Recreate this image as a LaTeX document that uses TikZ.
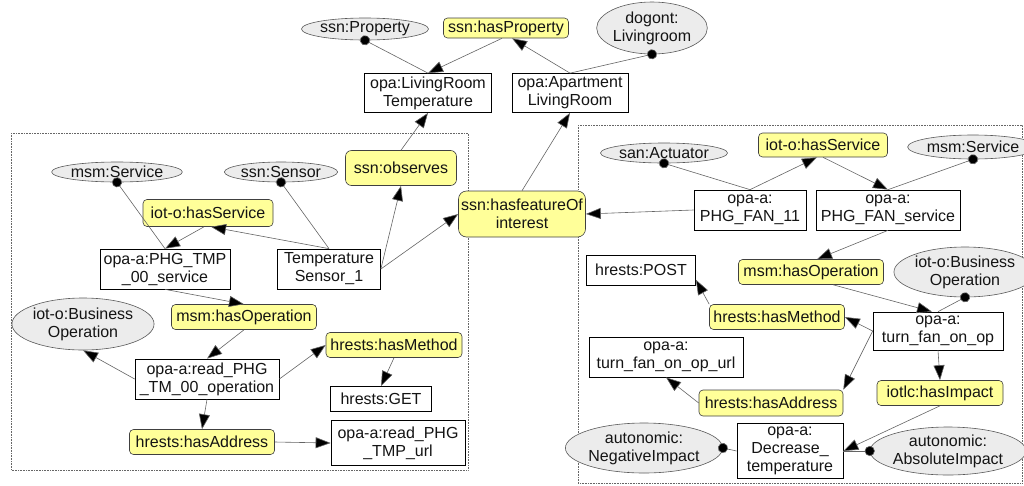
\documentclass[tikz,border=0pt]{standalone}
\usepackage{fontspec}
\setmainfont{Liberation Sans}
\usetikzlibrary{shapes.geometric,arrows.meta}
\definecolor{propyel}{RGB}{255,255,153}
\definecolor{clsgray}{RGB}{236,236,236}
\definecolor{txt}{RGB}{20,20,20}
\definecolor{ln}{RGB}{100,100,100}
\begin{document}
\begin{tikzpicture}[x=1pt,y=-1pt,
  every node/.style={font=\fontsize{16}{18}\selectfont, text=txt, align=center, inner sep=1pt},
  inst/.style={draw=black, line width=0.7pt, fill=white, rectangle},
  prop/.style={draw=black!75, line width=0.6pt, fill=propyel, rectangle, rounded corners=4pt},
  cls/.style={draw=black!65, line width=0.6pt, fill=clsgray, ellipse, inner sep=0pt},
  rel/.style={draw=ln, line width=0.6pt, -{Triangle[length=15pt,width=11pt,fill=black]}},
  typ/.style={draw=ln, line width=0.6pt, -{Circle[length=10pt,fill=black]}, shorten >=-5pt},
  grp/.style={draw=black!60, densely dotted, line width=0.6pt}
]
\useasboundingbox (0,0) rectangle (1024,485);

% groups
\draw[grp] (11,133) rectangle (468,470);
\draw[grp] (578,125) rectangle (1022,483);

% top
\node[cls, minimum width=114pt, minimum height=22pt] (sprop) at (365,29) {ssn:Property};
\node[prop, minimum width=125pt, minimum height=20pt] (hasprop) at (506,28) {ssn:hasProperty};
\node[cls, minimum width=97pt, minimum height=52pt] (dogont) at (652,28) {dogont:\\Livingroom};
\node[inst, minimum width=127pt, minimum height=39pt] (lrt) at (428,93) {opa:LivingRoom\\Temperature};
\node[inst, minimum width=116pt, minimum height=39pt] (apt) at (570,93) {opa:Apartment\\LivingRoom};
\node[prop, minimum width=111pt, minimum height=35pt, rounded corners=6pt] (observes) at (401,168) {ssn:observes};
\node[prop, minimum width=127pt, minimum height=46pt, rounded corners=8pt] (hfoi) at (522,214) {ssn:hasfeatureOf\\interest};

% left group
\node[cls, minimum width=101pt, minimum height=20pt] (msmL) at (117,172) {msm:Service};
\node[cls, minimum width=102pt, minimum height=20pt] (sensor) at (281,172) {ssn:Sensor};
\node[prop, minimum width=130pt, minimum height=27pt] (hsL) at (208,213) {iot-o:hasService};
\node[inst, minimum width=130pt, minimum height=40pt] (tmpsvc) at (165,269) {opa-a:PHG\_TMP\\\_00\_service};
\node[inst, minimum width=103pt, minimum height=40pt] (tsens) at (329,269) {Temperature\\Sensor\_1};
\node[prop, minimum width=145pt, minimum height=25pt] (hopL) at (244,317) {msm:hasOperation};
\node[cls, minimum width=130pt, minimum height=52pt] (boL) at (83,324) {iot-o:Business\\Operation};
\node[inst, minimum width=144pt, minimum height=40pt] (readop) at (207,379) {opa-a:read\_PHG\\\_TM\_00\_operation};
\node[prop, minimum width=136pt, minimum height=25pt] (hmL) at (394,345) {hrests:hasMethod};
\node[inst, minimum width=101pt, minimum height=25pt] (get) at (381,399) {hrests:GET};
\node[prop, minimum width=145pt, minimum height=25pt] (haL) at (202,442) {hrests:hasAddress};
\node[inst, minimum width=134pt, minimum height=45pt] (url) at (398,443) {opa-a:read\_PHG\\\_TMP\_url};

% right group
\node[cls, minimum width=110pt, minimum height=20pt] (act) at (664,153) {san:Actuator};
\node[prop, minimum width=129pt, minimum height=24pt] (hsR) at (823,145) {iot-o:hasService};
\node[cls, minimum width=100pt, minimum height=24pt] (msmR) at (973,147) {msm:Service};
\node[inst, minimum width=112pt, minimum height=40pt] (fan11) at (750,210) {opa-a:\\PHG\_FAN\_11};
\node[inst, minimum width=144pt, minimum height=40pt] (fansvc) at (888,210) {opa-a:\\PHG\_FAN\_service};
\node[inst, minimum width=109pt, minimum height=30pt] (post) at (641,270) {hrests:POST};
\node[prop, minimum width=145pt, minimum height=25pt] (hopR) at (811,272) {msm:hasOperation};
\node[cls, minimum width=115pt, minimum height=50pt] (boR) at (965,272) {iot-o:Business\\Operation};
\node[prop, minimum width=135pt, minimum height=25pt] (hmR) at (777,317) {hrests:hasMethod};
\node[inst, minimum width=130pt, minimum height=38pt] (turn) at (938,331) {opa-a:\\turn\_fan\_on\_op};
\node[inst, minimum width=154pt, minimum height=40pt] (turl) at (666,357) {opa-a:\\turn\_fan\_on\_op\_url};
\node[prop, minimum width=144pt, minimum height=26pt] (haR) at (771,403) {hrests:hasAddress};
\node[prop, minimum width=126pt, minimum height=25pt] (impact) at (940,393) {iotlc:hasImpact};
\node[inst, minimum width=106pt, minimum height=55pt] (dec) at (790,451) {opa-a:\\Decrease\_\\temperature};
\node[cls, minimum width=130pt, minimum height=50pt] (neg) at (644,448) {autonomic:\\NegativeImpact};
\node[cls, minimum width=139pt, minimum height=48pt] (abs) at (948,451) {autonomic:\\AbsoluteImpact};

% top edges
\draw[typ] (lrt.north) -- (sprop.south);
\draw[rel] ([xshift=-4pt]hasprop.south) -- (lrt.north);
\draw[rel] (apt.north) -- ([xshift=6pt]hasprop.south);
\draw[typ] (apt.north) -- (dogont.south);
\draw[rel] (observes.north) -- (lrt.south);
\draw[rel] (hfoi.north) -- (apt.south);

% left edges
\draw[typ] (tmpsvc.north) -- (msmL.south);
\draw[typ] (tsens.north) -- (sensor.south);
\draw[rel] (tsens.north) -- ([xshift=3pt]hsL.south);
\draw[rel] ([xshift=-4pt]hsL.south) -- (tmpsvc.north);
\draw[rel] (tsens.east) -- (observes.south);
\draw[rel] (tsens.east) -- (hfoi.west);
\draw[rel] (tmpsvc.south) -- (hopL.north);
\draw[rel] (hopL.south) -- (readop.north);
\draw[rel] (readop.west) -- (boL.south);
\draw[rel] (readop.east) -- (hmL.west);
\draw[rel] (hmL.south) -- (get.north);
\draw[rel] (readop.south) -- (haL.north);
\draw[rel] (haL.east) -- (url.west);

% right edges
\draw[typ] (fan11.north) -- (act.south);
\draw[rel] (fan11.north) -- ([xshift=-6pt]hsR.south);
\draw[rel] (hsR.south) -- (fansvc.north);
\draw[typ] (fansvc.north) -- (msmR.south);
\draw[rel] (fan11.west) -- (hfoi.east);
\draw[rel] (fansvc.south) -- ([xshift=6pt]hopR.north);
\draw[rel] (hopR.-30) -- ([xshift=-6pt]turn.north);
\draw[typ] (turn.north) -- (boR.south);
\draw[rel] (turn.west) -- (hmR.east);
\draw[rel] (hmR.north west) -- (post.-10);
\draw[rel] (turn.west) -- (haR.north east);
\draw[rel] (haR.west) -- (turl.south);
\draw[rel] (turn.south) -- (impact.north);
\draw[rel] (impact.south) -- (dec.east);
\draw[typ] (dec.west) -- (neg.east);
\draw[typ] (dec.east) -- (abs.west);
\end{tikzpicture}
\end{document}
